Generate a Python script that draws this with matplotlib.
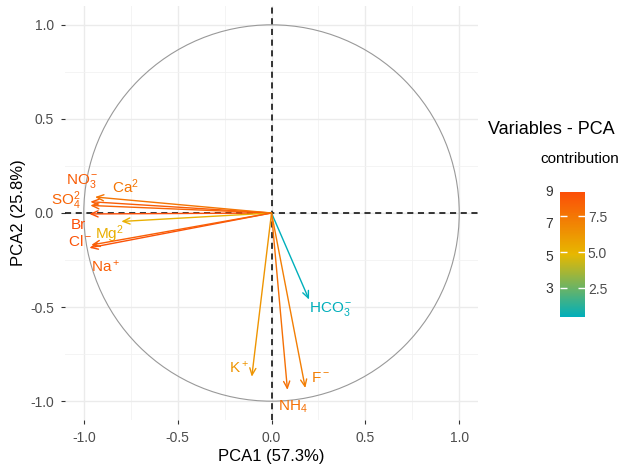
import numpy as np
import matplotlib.pyplot as plt
from matplotlib.colors import LinearSegmentedColormap, Normalize
from matplotlib.patches import Circle

plt.rcParams['font.family'] = ['Liberation Sans', 'DejaVu Sans']
plt.rcParams['mathtext.fontset'] = 'custom'
plt.rcParams['mathtext.rm'] = 'Liberation Sans'
plt.rcParams['mathtext.it'] = 'Liberation Sans'
plt.rcParams['mathtext.default'] = 'regular'

# variable loadings on PCA1 / PCA2 and their contribution
labels = ['NO$_3^-$', 'Ca$^2$', 'SO$_4^2$', 'Br', 'Mg$^2$', 'Cl$^-$', 'Na$^+$',
          'HCO$_3^-$', 'K$^+$', 'NH$_4$', 'F$^-$']
pc1 = [-0.965, -0.94, -0.965, -0.97, -0.80, -0.97, -0.96, 0.20, -0.105, 0.085, 0.18]
pc2 = [0.06, 0.085, 0.04, -0.005, -0.045, -0.185, -0.17, -0.46, -0.87, -0.94, -0.93]
contrib = [8.6, 7.6, 8.3, 9.2, 5.2, 9.0, 8.5, 0.5, 6.3, 7.8, 7.2]

# where each label sits (data coords)
label_pos = [(-1.01, 0.17), (-0.778, 0.14), (-1.095, 0.066), (-1.028, -0.062),
             (-0.863, -0.112), (-1.02, -0.152), (-0.884, -0.287), (0.315, -0.511),
             (-0.175, -0.819), (0.113, -1.032), (0.261, -0.878)]

cmap = LinearSegmentedColormap.from_list('contrib', ['#00AFBB', '#E7B800', '#FC4E07'])
norm = Normalize(vmin=min(contrib), vmax=max(contrib))

fig = plt.figure(figsize=(6.36, 4.66), dpi=100)
ax = fig.add_axes([65 / 636, 46 / 466, 413 / 636, 414 / 466])
ax.set_xlim(-1.1, 1.1)
ax.set_ylim(-1.1, 1.1)

for s in ax.spines.values():
    s.set_visible(False)
ticks = [-1.0, -0.5, 0.0, 0.5, 1.0]
ax.set_xticks(ticks)
ax.set_yticks(ticks)
ax.set_xticklabels([f'{t:.1f}' for t in ticks])
ax.set_yticklabels([f'{t:.1f}' for t in ticks])
ax.set_xticks([-0.75, -0.25, 0.25, 0.75], minor=True)
ax.set_yticks([-0.75, -0.25, 0.25, 0.75], minor=True)
ax.grid(which='major', color='#EBEBEB', lw=1.0)
ax.grid(which='minor', color='#F2F2F2', lw=0.6)
ax.set_axisbelow(True)
ax.tick_params(which='major', length=3, width=0.8, color='#333333',
               labelsize=10, labelcolor='#4D4D4D', pad=5)
ax.tick_params(which='minor', length=0)

ax.add_patch(Circle((0, 0), 1.0, fill=False, ec='#999999', lw=0.8))
ax.axhline(0, color='black', ls=(0, (4, 3)), lw=1.1)
ax.axvline(0, color='black', ls=(0, (4, 3)), lw=1.1)

for lab, x, y, c, (lx, ly) in zip(labels, pc1, pc2, contrib, label_pos):
    col = cmap(norm(c))
    ax.annotate('', xy=(x, y), xytext=(0, 0),
                arrowprops=dict(arrowstyle='->,head_length=0.5,head_width=0.22',
                                color=col, lw=1.0, shrinkA=0, shrinkB=0))
    ax.text(lx, ly, lab, color=col, fontsize=11, ha='center', va='center',
            clip_on=False)

ax.set_xlabel('PCA1 (57.3%)', fontsize=12, labelpad=3)
ax.set_ylabel('PCA2 (25.8%)', fontsize=12, labelpad=3)

# colour legend
cax = fig.add_axes([560 / 636, 149 / 466, 25 / 636, 125 / 466])
sm = plt.cm.ScalarMappable(norm=norm, cmap=cmap)
cb = fig.colorbar(sm, cax=cax, ticks=[2.5, 5.0, 7.5])
cb.outline.set_visible(False)
cb.ax.set_yticklabels(['2.5', '5.0', '7.5'])
cax.tick_params(left=True, right=True, direction='in', length=5, width=1,
                color='white', labelsize=10, labelcolor='#4D4D4D', pad=2)

fig.text(488 / 636, 1 - 130 / 466, 'Variables - PCA', fontsize=13, va='center')
fig.text(540 / 636, 1 - 159 / 466, 'contribution', fontsize=11, va='center')
for v, py in zip(['9', '7', '5', '3'], [192, 224, 257, 289]):
    fig.text(549 / 636, 1 - py / 466, v, fontsize=10, color='#333333',
             ha='center', va='center')

fig.savefig('out.png', dpi=100)
